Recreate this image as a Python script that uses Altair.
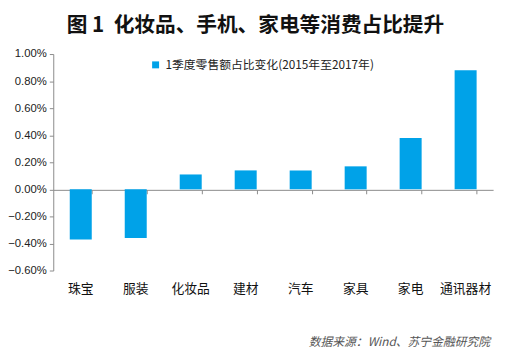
import altair as alt
import pandas as pd

categories = ["珠宝", "服装", "化妆品", "建材", "汽车", "家具", "家电", "通讯器材"]
values = [-0.0037, -0.0036, 0.0011, 0.0014, 0.0014, 0.0017, 0.0038, 0.0088]
series_name = "1季度零售额占比变化(2015年至2017年)"
y_ticks = [-0.006, -0.004, -0.002, 0.0, 0.002, 0.004, 0.006, 0.008, 0.010]
title_text = "图 1\u00a0\u00a0化妆品、手机、家电等消费占比提升"
source_text = "数据来源：Wind、苏宁金融研究院"

df = pd.DataFrame({"cat": categories, "val": values, "series": series_name})

CJK = "Noto Sans CJK SC"
LAT = "Liberation Sans"

xscale = alt.Scale(domain=categories, paddingInner=0.6, paddingOuter=0.3)
yscale = alt.Scale(domain=[-0.006, 0.010], nice=False, zero=True)

bars = alt.Chart(df).mark_bar(color="#00A2E8").encode(
    x=alt.X("cat:N", sort=categories, scale=xscale, title=None,
            axis=alt.Axis(domain=False, ticks=False, labelAngle=0,
                          labelFont=CJK, labelFontSize=13, labelColor="#111",
                          labelPadding=12)),
    y=alt.Y("val:Q", scale=yscale, title=None,
            axis=alt.Axis(values=y_ticks, format=".2%", grid=False,
                          labelOverlap=False, labelFlush=False,
                          domainColor="#8a8a8a", tickColor="#8a8a8a",
                          tickSize=4, labelFont=LAT, labelFontSize=11.5,
                          labelColor="#222", labelPadding=3)),
    color=alt.Color("series:N", scale=alt.Scale(range=["#00A2E8"]),
                    legend=alt.Legend(title=None, orient="none",
                                      legendX=98, legendY=5,
                                      symbolType="square", symbolSize=50,
                                      symbolStrokeWidth=0, labelLimit=400,
                                      labelFont=CJK, labelFontSize=12,
                                      labelColor="#222")),
)

zero_axis = alt.Chart(df).mark_bar(opacity=0).encode(
    x=alt.X("cat:N", sort=categories, scale=xscale, title=None,
            axis=alt.Axis(labels=False, domain=True, ticks=True,
                          tickBand="extent", tickSize=4,
                          domainColor="#8a8a8a", tickColor="#8a8a8a",
                          offset=-82, orient="bottom")),
    y=alt.Y("val:Q", scale=yscale, axis=None),
)

source = alt.Chart(pd.DataFrame({"t": [source_text]})).mark_text(
    align="right", baseline="middle", font=CJK, fontSize=12,
    fontStyle="italic", color="#555"
).encode(x=alt.value(444), y=alt.value(293), text="t:N")

chart = alt.layer(bars, zero_axis, source).resolve_axis(
    x="independent", y="independent"
).properties(
    width=447, height=220,
    padding={"left": 46, "top": 44, "right": 7, "bottom": 80},
    autosize=alt.AutoSizeParams(type="none"),
    title=alt.TitleParams(title_text, font=CJK, fontSize=21, fontWeight="bold",
                          color="#111", anchor="middle", dx=-18, offset=12),
).configure_view(stroke=None)

chart.save("out.html", embed_options={"renderer": "svg", "actions": False})
